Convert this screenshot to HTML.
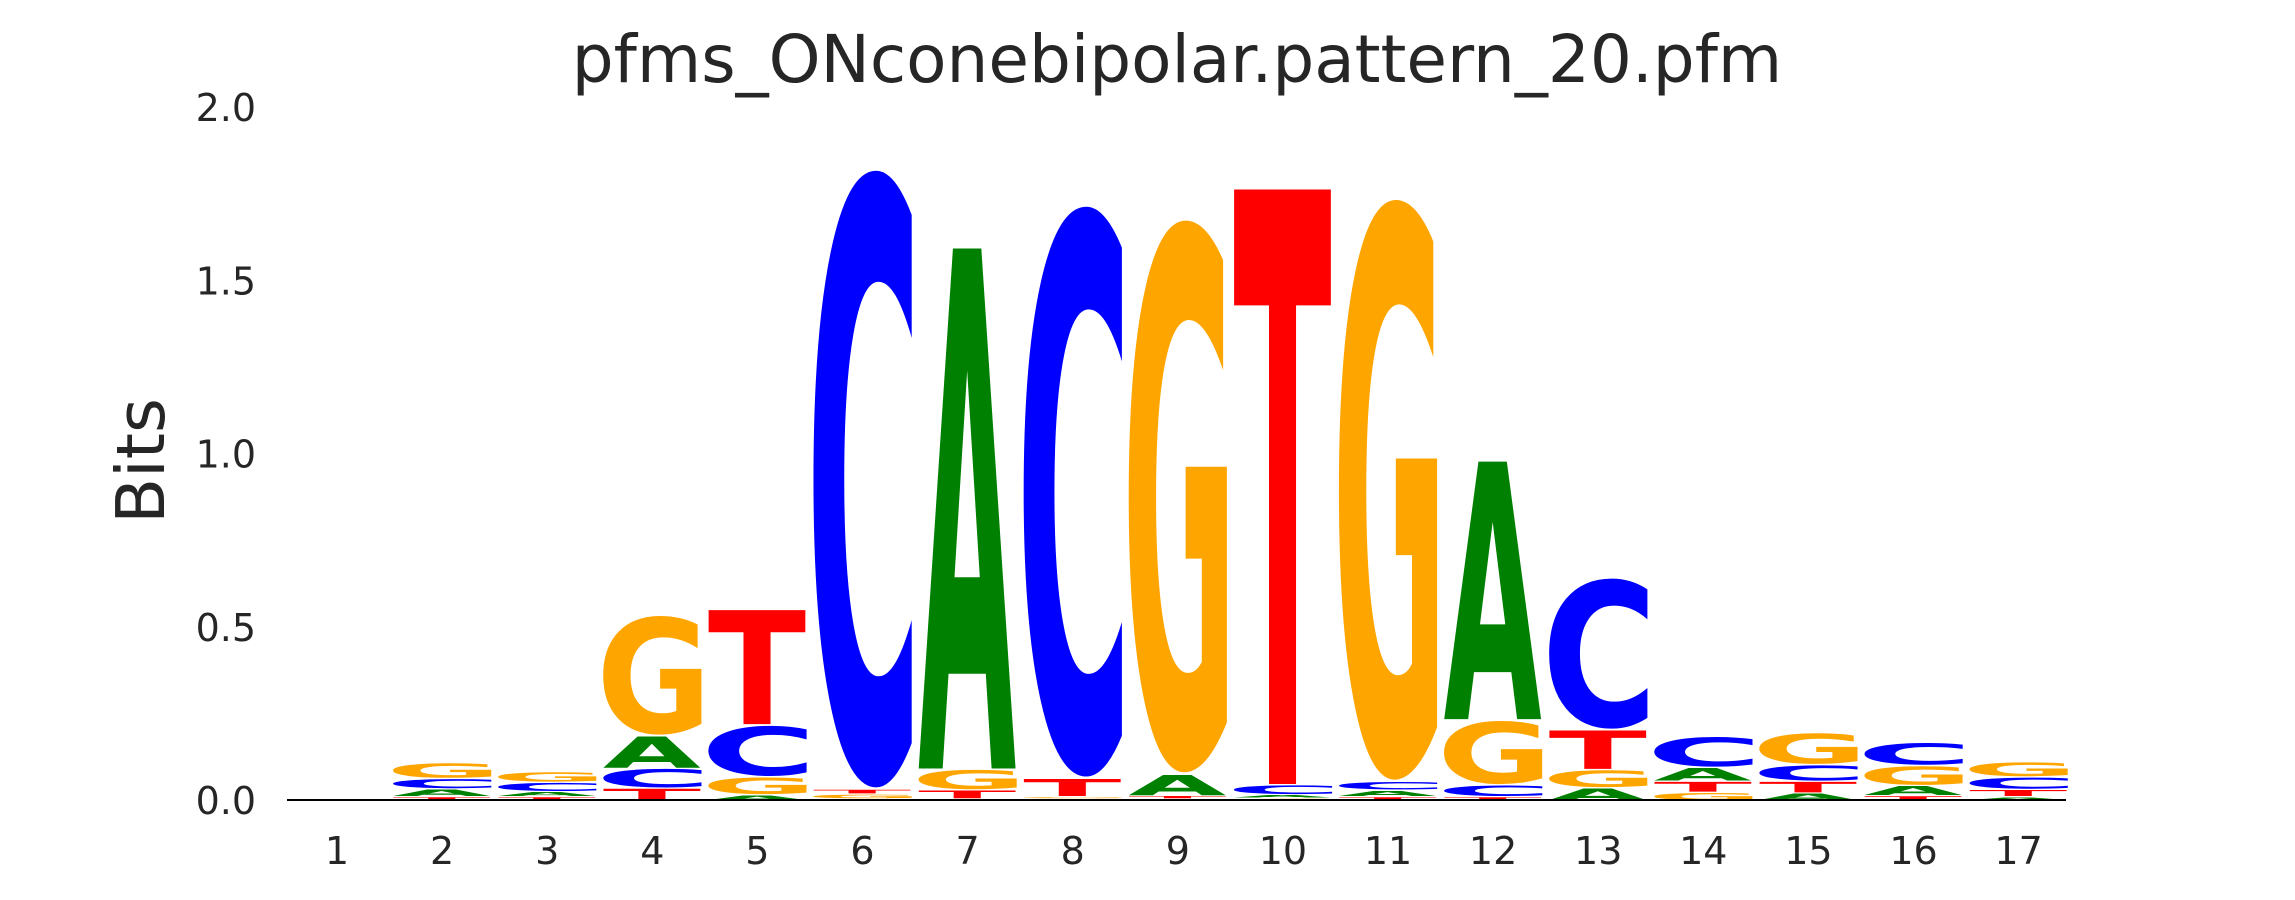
<!DOCTYPE html>
<html><head><meta charset="utf-8">
<style>
html,body{margin:0;padding:0;background:#fff;overflow:hidden;width:2295px;height:900px;}
svg{display:block;}
text{font-family:"DejaVu Sans","Liberation Sans",sans-serif;}
</style></head>
<body>
<svg id="chart" width="2295" height="900" viewBox="0 0 2295 900">
  <text x="1177" y="82" font-size="66" fill="#262626" text-anchor="middle">pfms_ONconebipolar.pattern_20.pfm</text>
  <text transform="translate(164,461) rotate(-90)" font-size="67" fill="#262626" text-anchor="middle">Bits</text>
  <g id="yticks"></g>
  <g id="xticks"></g>
  <g id="letters"></g>
  <line x1="287" y1="800" x2="2066" y2="800" stroke="#000" stroke-width="2"/>
</svg>
<script>
const positions = [1,2,3,4,5,6,7,8,9,10,11,12,13,14,15,16,17];
const yTickValues = [0.0,0.5,1.0,1.5,2.0];
const yTickLabels = ["0.0","0.5","1.0","1.5","2.0"];
// stacks bottom -> top: [letter, bits]
const col1 = [];
const col2 = [["T",0.0115],["A",0.0225],["C",0.03],["G",0.046]];
const col3 = [["T",0.0115],["A",0.0145],["C",0.027],["G",0.031]];
const col4 = [["T",0.036],["C",0.058],["A",0.094],["G",0.35]];
const col5 = [["A",0.017],["G",0.052],["C",0.15],["T",0.335]];
const col6 = [["A",0.005],["G",0.014],["T",0.014],["C",1.805]];
const col7 = [["C",0.005],["T",0.026],["G",0.06],["A",1.515]];
const col8 = [["A",0.005],["G",0.0065],["T",0.053],["C",1.668]];
const col9 = [["C",0.005],["T",0.01],["A",0.062],["G",1.615]];
const col10 = [["G",0.007],["A",0.01],["C",0.029],["T",1.732]];
const col11 = [["T",0.0115],["A",0.019],["C",0.025],["G",1.697]];
const col12 = [["T",0.0115],["C",0.034],["G",0.188],["A",0.752]];
const col13 = [["A",0.037],["G",0.053],["T",0.115],["C",0.442]];
const col14 = [["G",0.024],["T",0.032],["A",0.04],["C",0.09]];
const col15 = [["A",0.022],["T",0.034],["C",0.048],["G",0.093]];
const col16 = [["T",0.0145],["A",0.029],["G",0.058],["C",0.067]];
const col17 = [["A",0.0115],["T",0.021],["C",0.036],["G",0.044]];
const columns = [col1,col2,col3,col4,col5,col6,col7,col8,col9,col10,col11,col12,col13,col14,col15,col16,col17];

const NS = "http://www.w3.org/2000/svg";
const colors = {A:"#008000",C:"#0000ff",G:"#ffa500",T:"#ff0000"};
const y0 = 800, pxPerBit = 346.5;
function yScale(v){ return y0 - v*pxPerBit; }
function xScale(p){ return 337 + (p-1)*105.1; }
const letterW = 99;

const yt = document.getElementById('yticks');
yTickValues.forEach((v,i)=>{
  const t = document.createElementNS(NS,'text');
  t.setAttribute('x',256); t.setAttribute('y',yScale(v)+14);
  t.setAttribute('font-size',38); t.setAttribute('fill','#262626');
  t.setAttribute('text-anchor','end');
  t.textContent = yTickLabels[i];
  
  
  yt.appendChild(t);
});
const xt = document.getElementById('xticks');
positions.forEach(p=>{
  const t = document.createElementNS(NS,'text');
  t.setAttribute('x',xScale(p)); t.setAttribute('y',864);
  t.setAttribute('font-size',38); t.setAttribute('fill','#262626');
  t.setAttribute('text-anchor','middle');
  t.textContent = String(p);
  
  
  xt.appendChild(t);
});

const cv = document.createElement('canvas').getContext('2d');
cv.font = 'bold 1000px "DejaVu Sans"';
const ink = {};
["A","C","G","T"].forEach(L=>{
  const m = cv.measureText(L);
  ink[L] = {l:-m.actualBoundingBoxLeft, r:m.actualBoundingBoxRight,
            a:m.actualBoundingBoxAscent, d:m.actualBoundingBoxDescent};
});

const lg = document.getElementById('letters');
columns.forEach((col,ci)=>{
  const cx = xScale(positions[ci]);
  let base = 0;
  col.forEach(([L,h])=>{
    const bot = yScale(base), top = yScale(base+h);
    base += h;
    const hpx = Math.max(0.5, bot-top-1.2);
    const b = ink[L];
    const sx = letterW/(b.r-b.l), sy = hpx/(b.a+b.d);
    const t = document.createElementNS(NS,'text');
    t.setAttribute('font-size',1000);
    t.setAttribute('font-weight','bold');
    t.setAttribute('fill',colors[L]);
    t.setAttribute('transform',`translate(${cx-letterW/2 - b.l*sx},${bot - b.d*sy}) scale(${sx},${sy})`);
    t.textContent = L;
    
    
    lg.appendChild(t);
  });
});
</script>
</body></html>
